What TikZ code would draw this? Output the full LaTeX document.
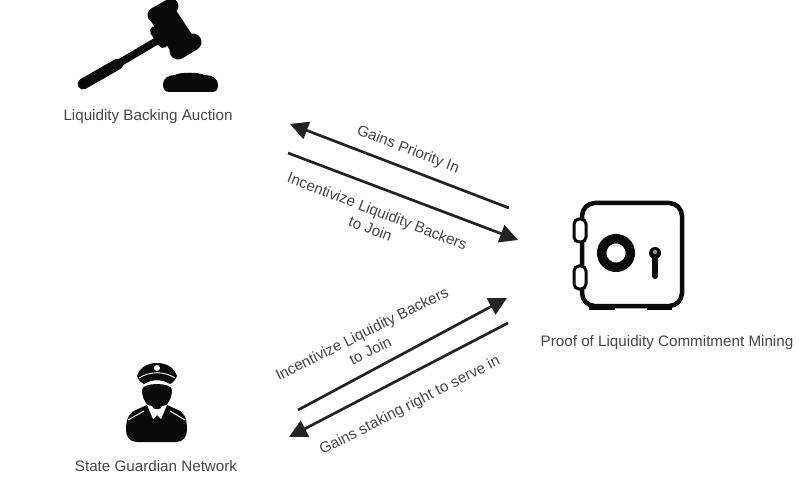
\documentclass[tikz,border=0pt]{standalone}
\usepackage{fontspec}
\setmainfont{Liberation Sans}
\usetikzlibrary{arrows.meta}
\definecolor{lbl}{HTML}{444444}
\definecolor{ink}{HTML}{0A0A0A}
\tikzset{
  txt/.style={text=lbl,font=\fontsize{15.2}{19}\selectfont,align=center,inner sep=0pt},
  flow/.style={draw=ink!90,line width=2.7pt,-{Triangle[length=18pt,width=18pt]}},
  solid ink/.style={fill=ink,draw=none},
  hw/.style={draw=ink,line cap=round}
}
\begin{document}
\begin{tikzpicture}[x=1pt,y=-1pt]
\useasboundingbox (0,0) rectangle (810,502);
% gavel
\draw[hw,line width=11pt] (83,84) -- (118,64);
\draw[hw,line width=7.5pt,line cap=butt] (116,65) -- (160,39);
\draw[hw,line width=10pt] (155,31) -- (163,43);
\draw[draw=ink,line width=27pt] (161,12) -- (186,50);
\draw[hw,line width=15pt] (155,15) -- (171,6);
\draw[hw,line width=17pt] (178,51) -- (193,42);
\path[solid ink] (163,84) .. controls (163,78) and (169,75) .. (175,75)
  .. controls (179,72) and (200,72) .. (204,75)
  .. controls (213,75) and (218,79) .. (218,85)
  .. controls (218,90) and (216,92) .. (212,92) -- (170,92)
  .. controls (165,92) and (163,90) .. (163,84) -- cycle;
\node[txt] (auction) at (148,116.5) {Liquidity Backing Auction};
% safe
\draw[draw=ink,line width=4.5pt,rounded corners=13pt] (582,203) rectangle (682,306);
\path[solid ink] (589,305) rectangle (615,310);
\path[solid ink] (647,305) rectangle (672,310);
\draw[draw=ink,fill=white,line width=3pt,rounded corners=5pt] (574,219) rectangle (586,242);
\draw[draw=ink,fill=white,line width=3pt,rounded corners=5pt] (574,266) rectangle (586,289);
\draw[draw=ink,line width=9.5pt] (616,253) circle (14.3pt);
\path[solid ink] (655,253) circle (6pt);
\draw[hw,line width=6pt] (655,254) -- (655,276);
\path[fill=ink!45!white] (655,252) circle (2.2pt);
\node[txt] (mining) at (667,343) {Proof of Liquidity Commitment Mining};
% guard
\path[solid ink] (142,390) .. controls (142,382) and (172,382) .. (172,390)
  .. controls (172,402) and (164,409) .. (157,409)
  .. controls (150,409) and (142,402) .. (142,390) -- cycle;
\path[solid ink] (137,376) .. controls (140,367) and (148,363) .. (157,363)
  .. controls (166,363) and (174,367) .. (177,376)
  .. controls (175,381) and (172,383) .. (170,384)
  .. controls (162,379) and (152,379) .. (144,384)
  .. controls (141,383) and (139,381) .. (137,376) -- cycle;
\path[fill=white] (157,368) circle (3pt);
\draw[draw=white,line width=.9pt] (139,378) .. controls (150,371) and (164,371) .. (175,378);
\path[solid ink] (126,430) .. controls (126,417) and (130,412) .. (138,409)
  -- (147,405) -- (157,415) -- (167,405) -- (176,409)
  .. controls (184,412) and (187,417) .. (187,430)
  .. controls (187,437) and (183,442) .. (176,442) -- (137,442)
  .. controls (130,442) and (126,437) .. (126,430) -- cycle;
\path[fill=white] (147,405) -- (152,406) -- (157,415) -- (153,419) -- cycle;
\path[fill=white] (167,405) -- (162,406) -- (157,415) -- (161,419) -- cycle;
\draw[draw=white,line width=1pt] (128,420) -- (144,411);
\draw[draw=white,line width=1pt] (185,420) -- (170,411);
\node[txt] (guardian) at (156,466) {State Guardian Network};
% arrows
\coordinate (a1s) at (509,208); \coordinate (a1e) at (290,124);
\coordinate (a2s) at (288,153); \coordinate (a2e) at (518,240);
\coordinate (a3s) at (298,410); \coordinate (a3e) at (507,298);
\coordinate (a4s) at (508,323); \coordinate (a4e) at (289,437);
\draw[flow] (a1s) -- (a1e);
\draw[flow] (a2s) -- (a2e);
\draw[flow] (a3s) -- (a3e);
\draw[flow] (a4s) -- (a4e);
\node[txt,rotate=-21] (l1) at (408,150) {Gains Priority In};
\node[txt,rotate=-21] (l2) at (374,220) {Incentivize Liquidity Backers\\to Join};
\node[txt,rotate=26.5] (l3) at (366,342) {Incentivize Liquidity Backers\\to Join};
\node[txt,rotate=27] (l4) at (410,406) {Gains staking right to serve in};
\end{tikzpicture}
\end{document}
